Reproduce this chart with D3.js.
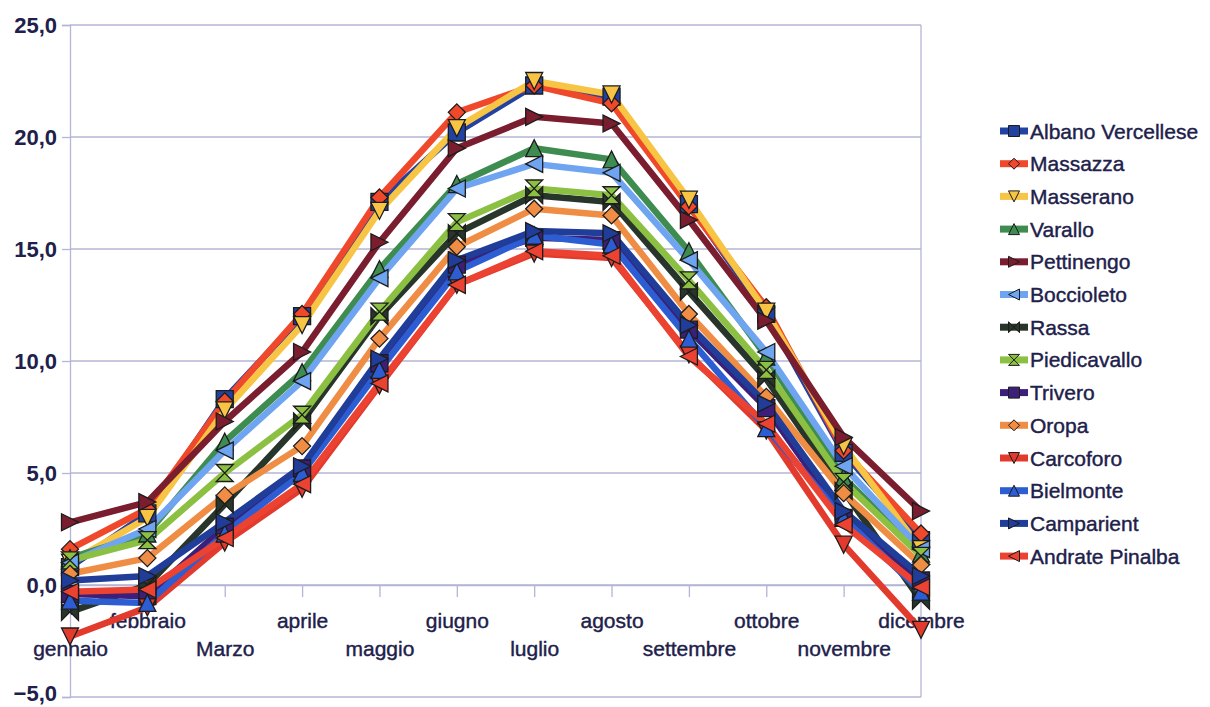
<!DOCTYPE html>
<html lang="it">
<head>
<meta charset="utf-8">
<title>Temperature medie mensili</title>
<style>
  body {
    margin: 0;
    padding: 0;
    background: #fff;
  }
  svg text {
    font-family: "Liberation Sans", Arial, sans-serif;
    fill: #20204a;
  }
</style>
</head>
<body>
<svg id="chart" width="1210" height="707"></svg>
<script src="https://d3js.org/d3.v7.min.js"></script>
<script>
const months = ["gennaio", "febbraio", "Marzo", "aprile", "maggio", "giugno",
  "luglio", "agosto", "settembre", "ottobre", "novembre", "dicembre"];

const stations = ["Albano Vercellese", "Massazza", "Masserano", "Varallo", "Pettinengo",
  "Boccioleto", "Rassa", "Piedicavallo", "Trivero", "Oropa", "Carcoforo",
  "Bielmonte", "Camparient", "Andrate Pinalba"];

const albanoVercellese = [0.8, 3.2, 8.3, 12.0, 17.1, 20.2, 22.3, 21.8, 17.0, 12.1, 5.9, 2.0];
const massazza = [1.6, 3.4, 8.2, 12.1, 17.3, 21.1, 22.3, 21.5, 16.9, 12.4, 6.0, 2.3];
const masserano = [1.0, 3.0, 7.8, 11.6, 16.7, 20.4, 22.5, 21.9, 17.2, 12.2, 6.2, 1.6];
const varallo = [1.2, 2.3, 6.4, 9.5, 14.1, 17.9, 19.5, 19.0, 14.9, 10.2, 4.8, 1.4];
const pettinengo = [2.8, 3.7, 7.3, 10.4, 15.3, 19.5, 20.9, 20.6, 16.3, 11.8, 6.6, 3.3];
const boccioleto = [1.0, 2.5, 6.0, 9.1, 13.7, 17.7, 18.8, 18.4, 14.5, 10.4, 5.3, 1.6];
const rassa = [-1.2, 0.0, 3.6, 7.3, 12.0, 15.7, 17.4, 17.1, 13.1, 9.2, 4.2, -0.7];
const piedicavallo = [1.1, 2.0, 5.0, 7.6, 12.2, 16.2, 17.7, 17.4, 13.6, 9.6, 4.6, 1.3];
const trivero = [-0.4, -0.5, 2.6, 5.2, 9.9, 14.3, 15.5, 15.4, 11.4, 7.9, 3.0, 0.2];
const oropa = [0.5, 1.2, 4.0, 6.2, 11.0, 15.1, 16.8, 16.5, 12.1, 8.4, 4.1, 0.9];
const carcoforo = [-2.3, -1.0, 1.9, 4.3, 8.9, 13.4, 14.8, 14.6, 10.3, 6.9, 1.8, -2.0];
const bielmonte = [-0.7, -0.8, 2.3, 5.0, 9.6, 14.0, 15.6, 15.2, 11.0, 7.0, 3.0, -0.3];
const camparient = [0.2, 0.4, 2.8, 5.3, 10.1, 14.5, 15.8, 15.7, 11.6, 8.1, 3.3, 0.4];
const andratePinalba = [-0.3, -0.2, 2.1, 4.5, 9.0, 13.4, 14.9, 14.7, 10.2, 7.2, 2.7, -0.1];

const yTicks = [-5, 0, 5, 10, 15, 20, 25];

const values = [albanoVercellese, massazza, masserano, varallo, pettinengo, boccioleto,
  rassa, piedicavallo, trivero, oropa, carcoforo, bielmonte, camparient, andratePinalba];

const colors = ["#2242a2", "#f0482a", "#f7c443", "#3f8c50", "#7a1d2e", "#6fa5f0", "#27352a",
  "#8cc043", "#3b1f78", "#f08d45", "#e23a2c", "#2c5dd2", "#1f3d99", "#ec4231"];
const shapes = ["square", "diamond", "down", "up", "right", "left", "bowtie", "hourglass",
  "square", "diamond", "down", "up", "right", "left"];

const series = stations.map((name, i) => ({
  name: name,
  color: colors[i],
  shape: shapes[i],
  points: values[i].map((v, j) => ({ month: months[j], value: v }))
}));

const svg = d3.select("#chart");
const plotLeft = 70, plotRight = 921, plotTop = 25, plotBottom = 697;

const x = d3.scalePoint().domain(months).range([plotLeft, plotRight]).padding(0);
const y = d3.scaleLinear().domain([-5, 25]).range([plotBottom, plotTop]);

// marker shapes, centred on 0,0
function markerPath(shape, s) {
  const h = s / 2;
  switch (shape) {
    case "square": return `M${-h},${-h}H${h}V${h}H${-h}Z`;
    case "diamond": return `M0,${-h}L${h},0L0,${h}L${-h},0Z`;
    case "down": return `M${-h},${-h}L${h},${-h}L0,${h}Z`;
    case "up": return `M${-h},${h}L${h},${h}L0,${-h}Z`;
    case "right": return `M${-h},${-h}L${h},0L${-h},${h}Z`;
    case "left": return `M${h},${-h}L${-h},0L${h},${h}Z`;
    case "bowtie": return `M${-h},${-h}L${h},${h}L${h},${-h}L${-h},${h}Z`;
    case "hourglass": return `M${-h},${-h}L${h},${-h}L${-h},${h}L${h},${h}Z`;
  }
}

const gridColor = "#b4b4d6";

// gridlines
svg.append("g")
  .selectAll("line")
  .data(yTicks)
  .join("line")
  .attr("x1", plotLeft)
  .attr("x2", plotRight)
  .attr("y1", d => y(d))
  .attr("y2", d => y(d))
  .attr("stroke", gridColor)
  .attr("stroke-width", 1.3);

// right border of plot area
svg.append("line")
  .attr("x1", plotRight).attr("x2", plotRight)
  .attr("y1", plotTop).attr("y2", plotBottom)
  .attr("stroke", gridColor)
  .attr("stroke-width", 1.3);

// y axis
const yAxis = svg.append("g")
  .attr("transform", `translate(${plotLeft},0)`)
  .call(d3.axisLeft(y)
    .tickValues(yTicks)
    .tickSize(8)
    .tickPadding(5)
    .tickFormat(d => d3.format(".1f")(d).replace(".", ",")));
yAxis.select(".domain").attr("stroke", gridColor).attr("stroke-width", 1.3);
yAxis.selectAll(".tick line").attr("stroke", gridColor).attr("stroke-width", 1.3);
yAxis.selectAll(".tick text")
  .attr("fill", "#20204a")
  .attr("y", d => d === -5 ? -4 : 0)
  .style("font-size", "22px")
  .style("font-weight", "bold")
  .style("font-family", "\"Liberation Sans\", Arial, sans-serif");

// x axis on the zero line
const xAxis = svg.append("g")
  .attr("transform", `translate(0,${y(0)})`)
  .call(d3.axisBottom(x).tickSize(12).tickPadding(0));
xAxis.select(".domain").attr("stroke", gridColor).attr("stroke-width", 1.3);
xAxis.selectAll(".tick line").attr("stroke", gridColor).attr("stroke-width", 1.3);
xAxis.selectAll(".tick text")
  .attr("y", (d, i) => i % 2 === 0 ? 64 : 36)
  .attr("dy", "0.35em")
  .attr("fill", "#20204a")
  .attr("stroke", "#20204a")
  .attr("stroke-width", 0.4)
  .style("font-size", "21px")
  .style("font-family", "\"Liberation Sans\", Arial, sans-serif");

const line = d3.line()
  .x(d => x(d.month))
  .y(d => y(d.value));

const plot = svg.append("g");

plot.selectAll("path.series")
  .data(series)
  .join("path")
  .attr("class", "series")
  .attr("fill", "none")
  .attr("stroke", d => d.color)
  .attr("stroke-width", 6.5)
  .attr("stroke-linejoin", "round")
  .attr("d", d => line(d.points));

series.forEach(s => {
  plot.append("g")
    .selectAll("path")
    .data(s.points)
    .join("path")
    .attr("transform", d => `translate(${x(d.month)},${y(d.value)})`)
    .attr("d", markerPath(s.shape, 17))
    .attr("fill", s.color)
    .attr("stroke", "#1c1c1c")
    .attr("stroke-width", 1.3);
});

// legend
const legend = svg.append("g").attr("transform", "translate(1000,131)");
const item = legend.selectAll("g")
  .data(series)
  .join("g")
  .attr("transform", (d, i) => `translate(0,${i * 32.7})`);
item.append("line")
  .attr("x1", 0).attr("x2", 28)
  .attr("stroke", d => d.color)
  .attr("stroke-width", 7);
item.append("path")
  .attr("transform", "translate(14,0)")
  .attr("d", d => markerPath(d.shape, 11))
  .attr("fill", d => d.color)
  .attr("stroke", "#1c1c1c")
  .attr("stroke-width", 1);
item.append("text")
  .attr("x", 30)
  .attr("dy", "0.36em")
  .attr("stroke", "#20204a")
  .attr("stroke-width", 0.4)
  .style("font-size", "21px")
  .text(d => d.name);
</script>
</body>
</html>
